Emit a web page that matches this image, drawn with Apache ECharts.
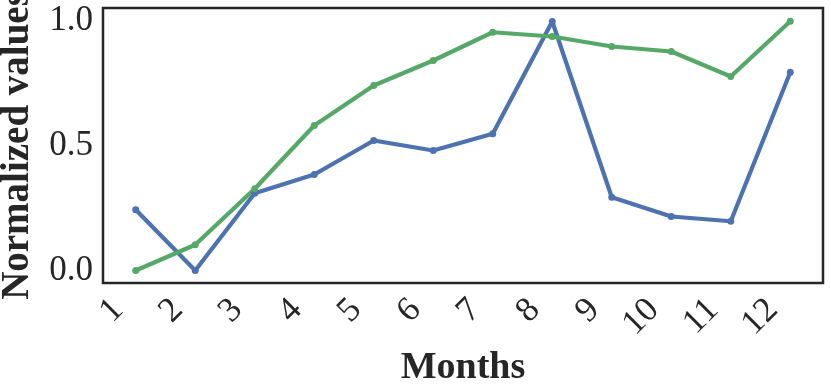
<!DOCTYPE html>
<html>
<head>
<meta charset="utf-8">
<title>Normalized values by month</title>
<script src="https://cdn.jsdelivr.net/npm/echarts@6/dist/echarts.min.js"></script>
<style>
	html, body { margin: 0; padding: 0; background: #fff; }
	#chart { width: 831px; height: 391px; }
</style>
</head>
<body>
<div id="chart"></div>
<script>
// 数据
var months = [1, 2, 3, 4, 5, 6, 7, 8, 9, 10, 11, 12];
var blueValues = [0.243, 0.0, 0.309, 0.384, 0.52, 0.48, 0.547, 0.996, 0.293, 0.216, 0.197, 0.793];
var greenValues = [0.0, 0.103, 0.327, 0.58, 0.74, 0.84, 0.953, 0.936, 0.896, 0.876, 0.776, 0.997];
var yTicks = [0, 0.5, 1.0];

function pairs(values) {
	return months.map(function (m, i) { return [m, values[i]]; });
}

var font = 'Liberation Serif';
var myChart = echarts.init(document.getElementById('chart'));
myChart.setOption({
	animation : false,
	grid : {
		left : 103,
		right : 8,
		top : 8,
		bottom : 108,
		outerBoundsMode : 'none',
		containLabel : false,
		show : true,
		borderColor : '#262626',
		borderWidth : 2.5,
		backgroundColor : '#fff'
	},
	xAxis : {
		type : 'value',
		min : 0.45,
		max : 12.55,
		name : 'Months',
		nameLocation : 'middle',
		nameGap : 55,
		nameTextStyle : { fontFamily : font, fontSize : 38, fontWeight : 'bold', color : '#262626' },
		axisLine : { show : false },
		axisTick : { show : false },
		splitLine : { show : false },
		axisLabel : {
			customValues : months,
			rotate : 45,
			margin : 4,
			padding : [0, 25, 12, 0],
			fontFamily : font,
			fontSize : 35,
			color : '#262626'
		}
	},
	yAxis : {
		type : 'value',
		min : -0.05,
		max : 1.05,
		name : 'Normalized values',
		nameLocation : 'middle',
		nameGap : 66,
		nameTextStyle : { fontFamily : font, fontSize : 39, fontWeight : 'bold', color : '#262626' },
		axisLine : { show : false },
		axisTick : { show : false },
		splitLine : { show : false },
		axisLabel : {
			customValues : yTicks,
			margin : 10,
			fontFamily : font,
			fontSize : 35,
			color : '#262626',
			formatter : function (v) { return v.toFixed(1); }
		}
	},
	series : [ {
		name : 'Blue',
		type : 'line',
		data : pairs(blueValues),
		symbol : 'circle',
		symbolSize : 7,
		lineStyle : { width : 4.2, color : '#4C72B0' },
		itemStyle : { color : '#4C72B0' }
	}, {
		name : 'Green',
		type : 'line',
		data : pairs(greenValues),
		symbol : 'circle',
		symbolSize : 7,
		lineStyle : { width : 4.2, color : '#55A868' },
		itemStyle : { color : '#55A868' }
	} ]
});
</script>
</body>
</html>
